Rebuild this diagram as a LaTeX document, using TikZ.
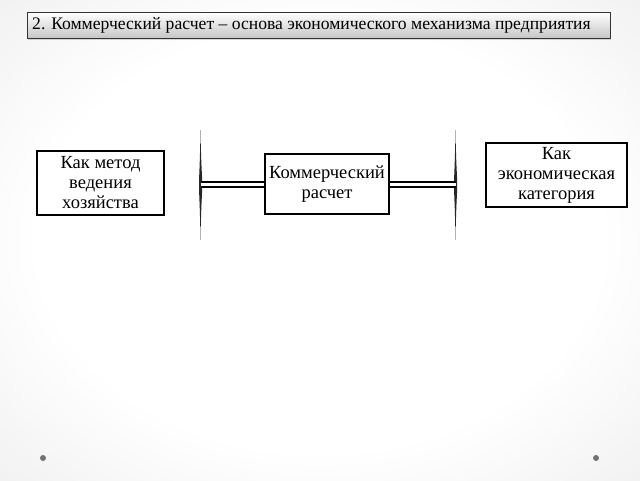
\documentclass[tikz,border=0pt]{standalone}
\usepackage{fontspec}
\setmainfont{Liberation Serif}
\usetikzlibrary{shadows}
\pgfdeclareradialshading{bgshade}{\pgfpoint{0bp}{0bp}}{color(0bp)=(white); color(22bp)=(white); color(45bp)=(black!9); color(60bp)=(black!17); color(75bp)=(black!22)}
\begin{document}
\begin{tikzpicture}[x=1pt,y=-1pt,
  box/.style={draw=black,line width=1.6pt,fill=white,align=center,font=\fontsize{18.5}{20}\selectfont,inner sep=0pt},
  dbl/.style={double distance=2.2pt,line width=2pt},
  vbar/.style={fill=black!85,draw=none}]
\useasboundingbox (0,0) rectangle (640,480);
\shade[shading=bgshade] (0,0) rectangle (640,480);
% title
\node[draw=black!80,line width=0.9pt,top color=white,bottom color=black!22,minimum width=583pt,minimum height=26pt,inner sep=0pt,drop shadow={opacity=0.3,shadow xshift=1pt,shadow yshift=-1.5pt}] (title) at (318.5,25) {};
\node[anchor=west,font=\fontsize{17.6}{19}\selectfont,inner sep=0pt] (titletext) at (32,25.5) {2. Коммерческий расчет – основа экономического механизма предприятия};
% boxes
\node[box,minimum width=127pt,minimum height=64pt] (left) at (100.5,183) {Как метод\\ведения\\хозяйства};
\node[box,minimum width=124pt,minimum height=60pt] (center) at (327,184) {Коммерческий\\расчет};
\node[box,minimum width=141pt,minimum height=64pt] (right) at (556.5,175) {Как\\экономическая\\категория};
% vertical bars
\coordinate (lt) at (200.5,130);
\coordinate (lb) at (200.5,240);
\coordinate (rt) at (455.5,130);
\coordinate (rb) at (455.5,240);
\fill[vbar] (lt) .. controls (200,165) and (199,175) .. (199,185) .. controls (199,195) and (200,205) .. (lb) .. controls (201,205) and (202.2,195) .. (202.2,185) .. controls (202.2,175) and (201,165) .. (lt);
\fill[vbar] (rt) .. controls (455,165) and (454,175) .. (454,185) .. controls (454,195) and (455,205) .. (rb) .. controls (456,205) and (457.2,195) .. (457.2,185) .. controls (457.2,175) and (456,165) .. (rt);
\coordinate (lm) at (200.5,184.5);
\coordinate (rm) at (455.5,184.5);
\draw[dbl] (lm) -- (center.west |- lm);
\draw[dbl] (center.east |- rm) -- (rm);
% dots
\fill[black!55] (43,458) circle (3);
\fill[black!55] (596,458) circle (3);
\end{tikzpicture}
\end{document}
